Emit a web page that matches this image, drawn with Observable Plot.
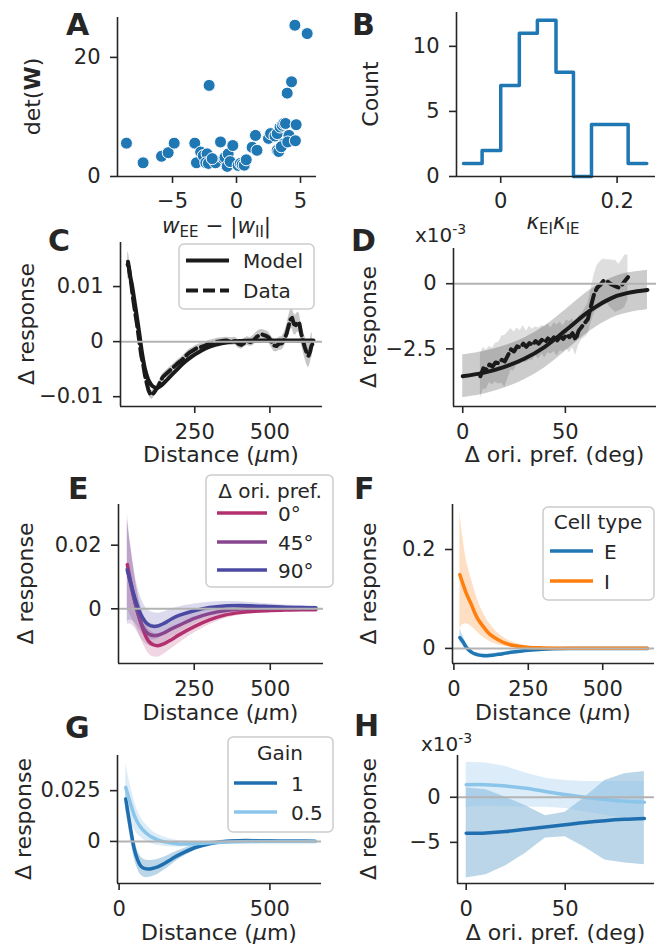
<!DOCTYPE html>
<html><head><meta charset="utf-8">
<script src="https://cdn.jsdelivr.net/npm/d3@7"></script>
<script src="https://cdn.jsdelivr.net/npm/@observablehq/plot@0.6"></script>
<style>
body{margin:0;background:#fff;}
#fig{position:relative;width:666px;height:946px;overflow:hidden;font-family:"DejaVu Sans",sans-serif;}
#fig svg.panel{position:absolute;}
</style></head><body><div id="fig"></div>
<script>
// ---------- DATA ----------
// A: scatter (w_EE - |w_II|, det(W))
const aPoints = [[-8.6,5.6],[-7.3,2.3],[-5.86,3.4],[-5.34,4.0],[-4.87,5.6],[-3.26,5.6],[-3.13,2.3],[-2.8,4.1],[-2.6,3.5],[-2.3,3.8],
 [-2.14,15.3],[-2.4,2.3],[-2.2,2.2],[-1.64,2.3],[-1.25,5.8],[-1.0,3.0],[-0.9,3.2],[-0.73,1.7],[-0.65,3.8],[-0.5,2.5],
 [-0.29,5.2],[0.13,1.85],[0.3,2.2],[0.44,2.0],[0.6,1.9],[0.76,2.8],[1.22,4.9],[1.48,6.9],[1.6,4.4],[2.5,6.4],
 [2.66,7.2],[3.0,6.8],[3.18,7.2],[3.18,4.4],[3.3,4.2],[3.4,8.3],[3.57,8.6],[3.7,8.9],[3.83,8.9],[3.7,5.5],
 [3.5,5.0],[3.96,14.0],[4.3,15.9],[4.1,6.9],[4.0,5.8],[4.6,6.0],[4.66,8.7],[4.56,25.4],[5.52,24.0],[-1.9,3.0]];
// B: histogram of kappa_EI*kappa_IE
const bEdges = [-0.064,-0.032,0.0,0.032,0.063,0.095,0.125,0.156,0.188,0.219,0.251];
const bCounts = [1,2,7,11,12,8,0,4,4,1];
// C: distance curves
const cModelX = [28,35,42,50,58,65,75,86,97,110,125,140,160,185,210,240,270,300,340,400,500,600,645];
const cModelY = [0.0145,0.0120,0.0100,0.0072,0.0043,0.0017,-0.0022,-0.0053,-0.0071,-0.0081,-0.0084,-0.0079,-0.0068,-0.0054,-0.0040,-0.0027,-0.0017,-0.0009,-0.0003,0.0001,0.0002,0.0002,0.0002];
const cDataX = [27,31,35,39,43,47,52,57,62,67, 72,78,84,90,96,102,108,114,120,128, 136,144,152,162,172,184,196,208,220,232,
 244,256,268,282,296,310,325,340,355,370, 385,395,405,415,425,435,445,455,465,475, 485,495,505,513,522,530,540,548,556,562,
 568,574,580,586,592,598,604,610,616,622, 628,634,638,641];
const cDataY = [0.0140,0.0135,0.0118,0.0105,0.0085,0.0070,0.0052,0.0035,0.0015,-0.0005,
 -0.0025,-0.0040,-0.0060,-0.0075,-0.0088,-0.0095,-0.0097,-0.0093,-0.0088,-0.0082,
 -0.0072,-0.0064,-0.0060,-0.0055,-0.0050,-0.0044,-0.0038,-0.0033,-0.0026,-0.0020,
 -0.0016,-0.0012,-0.0010,-0.0008,-0.0004,-0.0002,0.0000,0.0001,0.0002,0.0000,
 0.0001,-0.0004,-0.0006,-0.0002,0.0001,-0.0001,0.0002,0.0008,0.0012,0.0013,
 0.0011,0.0008,0.0000,-0.0007,-0.0008,-0.0004,-0.0003,0.0004,0.0015,0.0028,
 0.0040,0.0043,0.0032,0.0030,0.0036,0.0033,0.0015,0.0002,-0.0010,-0.0020,
 -0.0026,-0.0018,-0.0008,-0.0005];
const cDataErr = [0.0025,0.0022,0.0018,0.0015,0.0012,0.0010,0.0009,0.0008,0.0007,0.0007,
 0.0007,0.0007,0.0007,0.0008,0.0008,0.0008,0.0008,0.0008,0.0007,0.0007,
 0.0006,0.0006,0.0006,0.0006,0.0006,0.0006,0.0006,0.0006,0.0006,0.0006,
 0.0006,0.0006,0.0006,0.0006,0.0006,0.0006,0.0006,0.0006,0.0006,0.0007,
 0.0007,0.0008,0.0008,0.0008,0.0008,0.0008,0.0009,0.0009,0.0009,0.0009,
 0.0009,0.0010,0.0010,0.0011,0.0011,0.0012,0.0012,0.0013,0.0015,0.0017,
 0.0018,0.0019,0.0019,0.0018,0.0018,0.0018,0.0018,0.0019,0.0020,0.0021,
 0.0022,0.0022,0.0022,0.0022];
// D: orientation-preference curves (units of 1e-3)
const dModelX = [0,10,20,30,40,50,60,65,70,75,80,85,90];
const dModelY = [-3.55,-3.42,-3.2,-2.88,-2.42,-1.8,-1.15,-0.88,-0.65,-0.47,-0.36,-0.29,-0.24];
const dModelErr = [0.82,0.82,0.81,0.8,0.8,0.79,0.79,0.78,0.78,0.77,0.77,0.76,0.76];
const dDataX = [8.6,10,11.5,13,14.5,16,17.5,19,20.5,22, 23.5,25,26.5,28,29.5,31,32.5,34,35.5,37,
 38.5,40,41.5,43,44.5,46,47.5,49,50.5,52, 53.5,55,56.5,58,59.5,61,62.5,64,65.5,67, 68.5,70,71.5,73,74.5,76,77.5,79,80.5];
const dDataY = [-3.55,-3.25,-3.30,-3.10,-3.18,-3.02,-3.05,-2.92,-2.98,-2.75,
 -2.52,-2.60,-2.40,-2.45,-2.30,-2.42,-2.28,-2.35,-2.20,-2.30,
 -2.15,-2.25,-2.10,-2.20,-2.05,-2.18,-2.02,-2.12,-1.95,-2.05,
 -1.90,-2.15,-1.80,-1.65,-1.50,-1.35,-0.85,-0.40,-0.15,-0.05,
 0.10,0.12,0.02,-0.05,-0.10,-0.15,-0.05,0.10,0.25];
const dDataErr = [0.85,0.8,0.75,0.7,0.7,0.75,0.8,0.9,1.0,0.9,
 0.8,0.75,0.7,0.65,0.7,0.6,0.65,0.6,0.55,0.6,
 0.55,0.6,0.55,0.5,0.55,0.6,0.55,0.5,0.55,0.6,
 0.55,0.6,0.55,0.5,0.55,0.6,0.65,0.75,0.85,0.9,
 0.85,0.8,0.9,0.95,1.0,0.9,0.95,1.0,0.85];
// E: by orientation preference difference
const eX = [30,40,50,60,70,80,90,100,115,130,150,175,200,250,300,350,400,450,500,550,600,650];
const e0Y = [0.0139,0.0090,0.0045,0.0005,-0.0030,-0.0060,-0.0085,-0.0102,-0.0113,-0.0116,-0.0110,-0.0097,-0.0082,-0.0056,-0.0035,-0.0020,-0.0012,-0.0008,-0.0005,-0.0004,-0.0003,-0.0003];
const e45Y = [0.0126,0.0082,0.0040,0.0002,-0.0030,-0.0055,-0.0070,-0.0079,-0.0084,-0.0083,-0.0076,-0.0063,-0.0052,-0.0030,-0.0015,-0.0006,-0.0001,0.0001,0.0001,0.0001,0.0001,0.0001];
const e90Y = [0.0121,0.0085,0.0050,0.0018,-0.0008,-0.0028,-0.0042,-0.0050,-0.0055,-0.0054,-0.0046,-0.0032,-0.0021,-0.0006,0.0004,0.0009,0.0010,0.0009,0.0007,0.0005,0.0004,0.0003];
const e0Err = [0.014,0.011,0.0085,0.0065,0.0052,0.0045,0.0041,0.0039,0.0038,0.0036,0.0033,0.0029,0.0026,0.002,0.0015,0.0011,0.0008,0.0006,0.0005,0.0004,0.0004,0.0003];
const e45Err = [0.0175,0.013,0.0095,0.007,0.0055,0.0045,0.004,0.0037,0.0035,0.0033,0.003,0.0027,0.0024,0.0019,0.0015,0.0011,0.0008,0.0006,0.0005,0.0004,0.0004,0.0003];
const e90Err = [0.016,0.012,0.009,0.0068,0.0056,0.005,0.0047,0.0045,0.0043,0.004,0.0036,0.0031,0.0027,0.0021,0.0017,0.0014,0.0012,0.001,0.0008,0.0007,0.0006,0.0005];
const eLabels = ["0°","45°","90°"];
// F: by cell type
const fX = [20,30,40,50,60,70,80,100,120,150,175,200,250,300,400,500,600,650];
const fEY = [0.022,0.014,0.004,-0.003,-0.008,-0.011,-0.013,-0.0148,-0.0145,-0.012,-0.0095,-0.0072,-0.0035,-0.0015,-0.0003,0,0,0];
const fELo = [0.012,0.006,-0.002,-0.008,-0.012,-0.015,-0.017,-0.018,-0.018,-0.015,-0.012,-0.0095,-0.005,-0.0025,-0.001,-0.0005,-0.0004,-0.0004];
const fEHi = [0.040,0.026,0.012,0.003,-0.003,-0.007,-0.009,-0.011,-0.011,-0.009,-0.007,-0.005,-0.002,-0.0005,0.0004,0.0005,0.0004,0.0004];
const fIY = [0.149,0.131,0.114,0.100,0.087,0.072,0.060,0.043,0.029,0.017,0.010,0.006,0.002,0.001,0.0005,0.0003,0.0002,0.0002];
const fILo = [0.040,0.048,0.050,0.048,0.044,0.038,0.032,0.022,0.014,0.007,0.004,0.002,0.0005,0,0,0,0,0];
const fIHi = [0.276,0.225,0.185,0.158,0.137,0.117,0.098,0.070,0.050,0.030,0.019,0.012,0.005,0.002,0.001,0.0006,0.0004,0.0004];
const fLabels = ["E","I"];
// G: by gain, vs distance
const gX = [22,30,40,50,60,70,80,95,110,130,150,175,200,250,300,350,400,500,600,650];
const g1Y = [0.0209,0.0135,0.0045,-0.0035,-0.0085,-0.0117,-0.0131,-0.0136,-0.0133,-0.0124,-0.0109,-0.0086,-0.0065,-0.0031,-0.0011,0.0000,0.0004,0.0003,0.0002,0.0001];
const g1Err = [0.005,0.005,0.005,0.0048,0.0046,0.0045,0.0044,0.0042,0.004,0.0036,0.0032,0.0027,0.0022,0.0015,0.001,0.0007,0.0005,0.0003,0.0002,0.0002];
const g05Y = [0.0266,0.0225,0.0175,0.0130,0.0097,0.0073,0.0055,0.0035,0.0020,0.0007,-0.0002,-0.0008,-0.0012,-0.0011,-0.0007,-0.0004,-0.0002,0.0000,0.0000,0.0000];
const g05Err = [0.012,0.010,0.0085,0.007,0.006,0.005,0.0045,0.0038,0.0032,0.0027,0.0023,0.0019,0.0016,0.0011,0.0008,0.0006,0.0005,0.0003,0.0002,0.0002];
const gLabels = ["1","0.5"];
// H: by gain, vs orientation preference (units of 1e-3)
const hX = [0,10,20,30,40,50,60,70,80,90];
const h1Y = [-4.0,-3.95,-3.8,-3.55,-3.3,-3.05,-2.8,-2.6,-2.45,-2.35];
const h1Lo = [-8.96,-8.59,-7.59,-6.2,-4.51,-4.37,-5.56,-6.96,-7.3,-7.48];
const h1Hi = [1.04,0.82,0.0,-0.95,-2.04,-1.67,0.0,1.86,2.6,2.86];
const h05Y = [1.4,1.4,1.25,1.0,0.65,0.3,0.0,-0.25,-0.45,-0.55];
const h05Lo = [-1.1,-1.0,-1.05,-1.1,-1.1,-1.25,-1.6,-2.0,-2.3,-2.6];
const h05Hi = [3.89,3.8,3.4,2.7,2.1,1.86,1.75,1.74,1.74,1.74];

// ---------- STYLE ----------
const INK = "#262626";
const BLACK = "#1a1a1a";
const BLUE = "#1f77b4", ORANGE = "#ff7f0e";
const G1 = "#1f6fb0", G05 = "#8cc5ea";
const ECOL = ["#b3306f","#87478f","#4a4aa3"];
const ZERO = "#b3b3b3";
const fmt = d => d === 0 ? "0" : String(d).replace("-", "\u2212");
const fig = document.getElementById("fig");

const rows = (xs, ...cols) => xs.map((x, i) => ({x, ...Object.fromEntries(cols.map(([k, a]) => [k, a[i]]))}));

function panel({L, R, T, B, xd, yd, xt, yt, marks, zero = true, xPad = 11}) {
  const x0 = L - 110, y0 = T - 12, x1 = R + 8, y1 = B + 45;
  const svg = Plot.plot({
    width: x1 - x0, height: y1 - y0,
    marginLeft: L - x0, marginRight: x1 - R, marginTop: T - y0, marginBottom: y1 - B,
    x: {domain: xd}, y: {domain: yd},
    style: {fontFamily: "DejaVu Sans, sans-serif", fontSize: "21px", color: INK, background: "transparent", overflow: "visible"},
    marks: [
      ...marks,
      zero ? Plot.ruleY([0], {stroke: ZERO, strokeWidth: 2}) : null,
      Plot.ruleX([xd[0]], {stroke: INK, strokeWidth: 1.6}),
      Plot.ruleY([yd[0]], {stroke: INK, strokeWidth: 1.6}),
      Plot.axisX({ticks: xt, tickFormat: fmt, tickSize: 7, tickPadding: xPad, label: null, strokeWidth: 1.6}),
      Plot.axisY({ticks: yt, tickFormat: fmt, tickSize: 7, tickPadding: 10, label: null, strokeWidth: 1.6})
    ]
  });
  svg.classList.add("panel");
  svg.style.left = x0 + "px";
  svg.style.top = y0 + "px";
  fig.appendChild(svg);
}

// A
panel({L:117, R:316, T:17, B:176, xd:[-9.3, 6.25], yd:[0, 26.7], xt:[-5,0,5], yt:[0,20], zero:false, xPad:9.5,
  marks:[Plot.dot(aPoints, {x: d => d[0], y: d => d[1], r: 6, fill: BLUE, stroke: "white", strokeWidth: 1})]});

// B
const bStep = bEdges.map((e, i) => ({x: e, y: bCounts[Math.min(i, bCounts.length - 1)]}));
panel({L:456, R:655, T:12, B:176, xd:[-0.076, 0.266], yd:[0, 12.6], xt:[0,0.2], yt:[0,5,10], zero:false, xPad:9.5,
  marks:[Plot.line(bStep, {x:"x", y:"y", curve:"step-after", stroke: BLUE, strokeWidth: 3.5})]});

// C
const cModel = rows(cModelX, ["y", cModelY]);
const cData = rows(cDataX, ["y", cDataY], ["e", cDataErr]);
panel({L:120, R:322, T:242, B:406, xd:[3, 675], yd:[-0.01178, 0.018], xt:[250,500], yt:[-0.01,0,0.01],
  marks:[
    Plot.areaY(cData, {x:"x", y1: d => d.y - d.e, y2: d => d.y + d.e, fill:"black", fillOpacity:0.22}),
    Plot.line(cModel, {x:"x", y:"y", stroke: BLACK, strokeWidth: 4, curve:"catmull-rom"}),
    Plot.line(cData, {x:"x", y:"y", stroke: BLACK, strokeWidth: 4, strokeDasharray:"12,5"})
  ]});

// D
const dModel = rows(dModelX, ["y", dModelY], ["e", dModelErr]);
const dData = rows(dDataX, ["y", dDataY], ["e", dDataErr]);
panel({L:453, R:656, T:248, B:406, xd:[-4.5, 94.4], yd:[-4.71, 1.35], xt:[0,50], yt:[-2.5,0],
  marks:[
    Plot.areaY(dModel, {x:"x", y1: d => d.y - d.e, y2: d => d.y + d.e, fill:"black", fillOpacity:0.2, curve:"catmull-rom"}),
    Plot.areaY(dData, {x:"x", y1: d => d.y - d.e, y2: d => d.y + d.e, fill:"black", fillOpacity:0.13}),
    Plot.line(dModel, {x:"x", y:"y", stroke: BLACK, strokeWidth: 4, curve:"catmull-rom"}),
    Plot.line(dData, {x:"x", y:"y", stroke: BLACK, strokeWidth: 4, strokeDasharray:"12,5"})
  ]});

// E
const eSeries = [[e0Y, e0Err], [e45Y, e45Err], [e90Y, e90Err]].map(([ys, es]) => rows(eX, ["y", ys], ["e", es]));
panel({L:118, R:323, T:504, B:663, xd:[1, 675], yd:[-0.0172, 0.0328], xt:[250,500], yt:[0,0.02],
  marks:[
    ...eSeries.map((s, i) => Plot.areaY(s, {x:"x", y1: d => d.y - d.e, y2: d => d.y + d.e, fill: ECOL[i], fillOpacity: 0.2, curve:"catmull-rom"})),
    ...eSeries.map((s, i) => Plot.line(s, {x:"x", y:"y", stroke: ECOL[i], strokeWidth: 3.5, curve:"catmull-rom"}))
  ]});

// F
const fE = rows(fX, ["y", fEY], ["lo", fELo], ["hi", fEHi]);
const fI = rows(fX, ["y", fIY], ["lo", fILo], ["hi", fIHi]);
panel({L:452, R:654, T:504, B:663, xd:[-4.7, 674], yd:[-0.0305, 0.291], xt:[0,250,500], yt:[0,0.2],
  marks:[
    Plot.areaY(fE, {x:"x", y1:"lo", y2:"hi", fill: BLUE, fillOpacity: 0.25, curve:"catmull-rom"}),
    Plot.areaY(fI, {x:"x", y1:"lo", y2:"hi", fill: ORANGE, fillOpacity: 0.25, curve:"catmull-rom"}),
    Plot.line(fE, {x:"x", y:"y", stroke: BLUE, strokeWidth: 3.5, curve:"catmull-rom"}),
    Plot.line(fI, {x:"x", y:"y", stroke: ORANGE, strokeWidth: 3.5, curve:"catmull-rom"})
  ]});

// G
const g1 = rows(gX, ["y", g1Y], ["e", g1Err]);
const g05 = rows(gX, ["y", g05Y], ["e", g05Err]);
panel({L:117, R:321, T:755, B:883, xd:[-5.3, 671], yd:[-0.0207, 0.0423], xt:[0,500], yt:[0,0.025],
  marks:[
    Plot.areaY(g1, {x:"x", y1: d => d.y - d.e, y2: d => d.y + d.e, fill: BLUE, fillOpacity: 0.3, curve:"catmull-rom"}),
    Plot.areaY(g05, {x:"x", y1: d => d.y - d.e, y2: d => d.y + d.e, fill: G05, fillOpacity: 0.3, curve:"catmull-rom"}),
    Plot.line(g1, {x:"x", y:"y", stroke: G1, strokeWidth: 3.5, curve:"catmull-rom"}),
    Plot.line(g05, {x:"x", y:"y", stroke: G05, strokeWidth: 3.5, curve:"catmull-rom"})
  ]});

// H
const h1 = rows(hX, ["y", h1Y], ["lo", h1Lo], ["hi", h1Hi]);
const h05 = rows(hX, ["y", h05Y], ["lo", h05Lo], ["hi", h05Hi]);
panel({L:457, R:654, T:755, B:883, xd:[-4.4, 95.1], yd:[-9.56, 4.63], xt:[0,50], yt:[-5,0],
  marks:[
    Plot.areaY(h1, {x:"x", y1:"lo", y2:"hi", fill: BLUE, fillOpacity: 0.3}),
    Plot.areaY(h05, {x:"x", y1:"lo", y2:"hi", fill: G05, fillOpacity: 0.3}),
    Plot.line(h1, {x:"x", y:"y", stroke: G1, strokeWidth: 3.5, curve:"catmull-rom"}),
    Plot.line(h05, {x:"x", y:"y", stroke: G05, strokeWidth: 3.5, curve:"catmull-rom"})
  ]});

// ---------- TEXT OVERLAY ----------
const ov = d3.select(fig).append("svg").attr("width", 666).attr("height", 946)
  .style("position", "absolute").style("left", "0px").style("top", "0px")
  .attr("font-family", "DejaVu Sans, sans-serif").attr("fill", INK);

// panel letters
[["A",66,35],["B",352,35],["C",48,251],["D",351,251],["E",68,499],["F",354,499],["G",65,738],["H",354,736]]
  .forEach(([t,x,y]) => ov.append("text").attr("x",x).attr("y",y).attr("font-size",30).attr("font-weight","bold").text(t));

// y labels
function ylab(x, cy, parts) {
  const t = ov.append("text").attr("transform", `translate(${x},${cy}) rotate(-90)`).attr("text-anchor","middle").attr("font-size",22);
  parts.forEach(([s, o = {}]) => { const sp = t.append("tspan").text(s); Object.entries(o).forEach(([k,v]) => sp.attr(k,v)); });
}
ylab(40, 96.5, [["det("],["W",{"font-weight":"bold"}],[")"]]);
ylab(378, 94, [["Count"]]);
[[34,324],[376,327],[33,583.5],[376,583.5],[31,819],[376,819]].forEach(([x,cy]) => ylab(x, cy, [["\u0394 response"]]));

// x labels
function xlab(cx, y, parts, size = 22) {
  const t = ov.append("text").attr("x", cx).attr("y", y).attr("text-anchor","middle").attr("font-size",size);
  parts.forEach(([s, o = {}]) => { const sp = t.append("tspan").text(s); Object.entries(o).forEach(([k,v]) => sp.attr(k,v)); });
}
const it = {"font-style":"italic"};
xlab(216.5, 233, [["w",it],["EE",{"font-size":15,dy:4}],[" \u2212 |",{dy:-4}],["w",it],["II",{"font-size":15,dy:4}],["|",{dy:-4}]], 21.5);
xlab(553, 229, [["\u03ba",it],["EI",{"font-size":15,dy:5}],["\u03ba",{...it,dy:-5}],["IE",{"font-size":15,dy:5}]], 21.5);
const distLab = [["Distance ("],["\u03bc",it],["m)"]];
xlab(221, 462, distLab); xlab(220.5, 720, distLab); xlab(553, 720, distLab); xlab(219, 940, distLab);
xlab(554.5, 462, [["\u0394 ori. pref. (deg)"]]); xlab(555.5, 940, [["\u0394 ori. pref. (deg)"]]);

// x10^-3 multipliers
[[415,242],[421,751]].forEach(([x,y]) => {
  const t = ov.append("text").attr("x",x).attr("y",y).attr("font-size",20);
  t.append("tspan").text("x10");
  t.append("tspan").attr("font-size",14).attr("dy",-8).text("-3");
});

// legends
function legend({x, y, w, h, title, tcx, ty, entries, lx0, lx1, tx}) {
  const g = ov.append("g");
  g.append("rect").attr("x",x).attr("y",y).attr("width",w).attr("height",h).attr("rx",5)
    .attr("fill","white").attr("fill-opacity",0.8).attr("stroke","#cccccc").attr("stroke-width",1.5);
  if (title) g.append("text").attr("x",tcx).attr("y",ty).attr("text-anchor","middle").attr("font-size",20).text(title);
  entries.forEach(e => {
    g.append("line").attr("x1",lx0).attr("x2",lx1).attr("y1",e.ly).attr("y2",e.ly)
      .attr("stroke",e.color).attr("stroke-width",e.sw || 3.5).attr("stroke-dasharray", e.dash || null);
    g.append("text").attr("x",tx).attr("y",e.ly + 7.5).attr("font-size",20).text(e.label);
  });
}
legend({x:179, y:244, w:135, h:65, lx0:186, lx1:229, tx:243,
  entries:[{label:"Model", color:BLACK, ly:260.5, sw:4},{label:"Data", color:BLACK, ly:290.5, sw:4, dash:"12,5"}]});
legend({x:206, y:475, w:127, h:112, title:"\u0394 ori. pref.", tcx:270, ty:498, lx0:217, lx1:267, tx:278,
  entries: eLabels.map((l,i) => ({label:l, color:ECOL[i], ly:[513,542,570][i]}))});
legend({x:543, y:507, w:111, h:93, title:"Cell type", tcx:598, ty:529, lx0:550, lx1:593, tx:604,
  entries: fLabels.map((l,i) => ({label:l, color:[BLUE,ORANGE][i], ly:[551,581][i]}))});
legend({x:228, y:737, w:105, h:95, title:"Gain", tcx:280, ty:760, lx0:234, lx1:277, tx:291,
  entries: gLabels.map((l,i) => ({label:l, color:[G1,G05][i], ly:[783,812][i]}))});
</script>
</body></html>
